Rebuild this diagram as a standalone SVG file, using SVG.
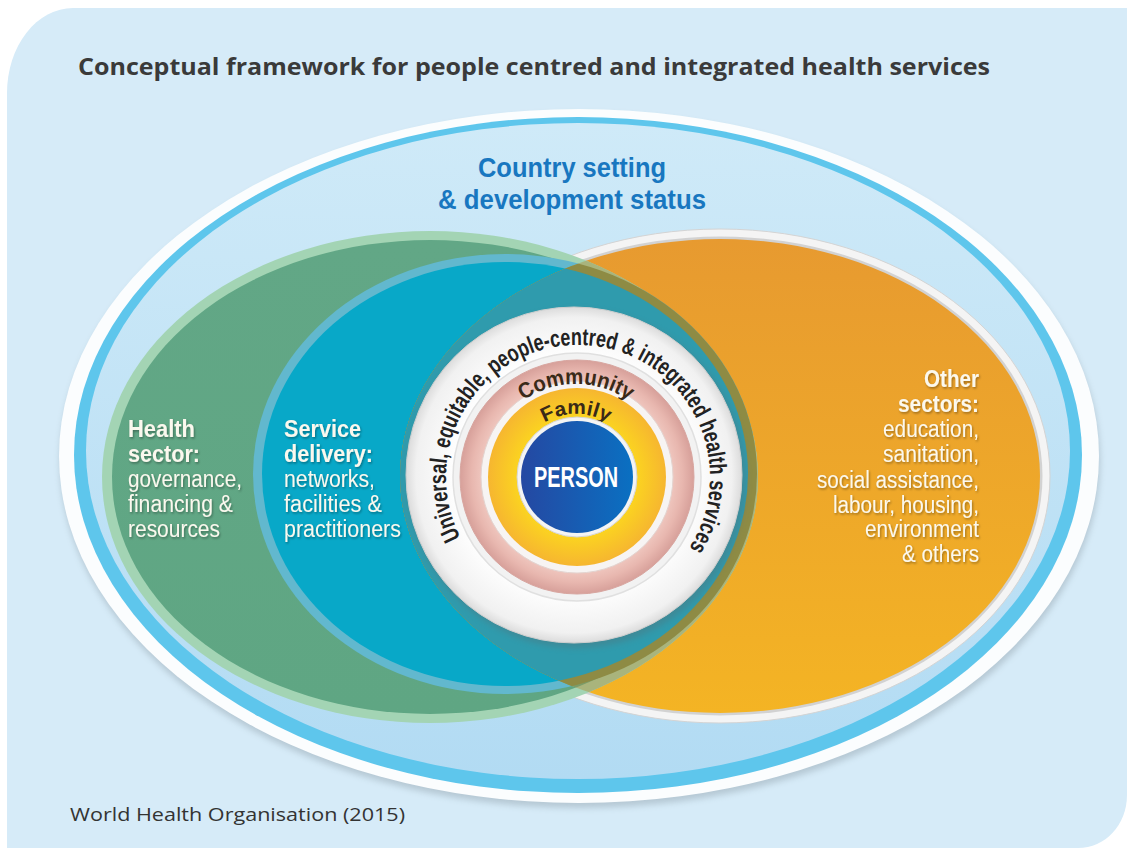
<svg xmlns="http://www.w3.org/2000/svg" width="1127" height="848" viewBox="0 0 1127 848">
<defs>
<style>
.title{font-family:"Open Sans","Liberation Sans",sans-serif;font-weight:700;fill:#3a3a3a}
.foot{font-family:"Open Sans","Liberation Sans",sans-serif;font-weight:400;fill:#333333}
.cond{font-family:"Liberation Sans",Arial,sans-serif}
.hd{font-weight:700}
.rg{font-weight:400}
.lbl{fill:#fbf8ee;font-size:23px;filter:url(#tshadow)}
.country{fill:#1877c0;font-weight:700;font-size:27px}
.ring{fill:#222222;font-weight:700;font-size:24px}
.inner{fill:#3a2a18;font-weight:700}
</style>
<linearGradient id="gOuter" x1="0" y1="0" x2="0" y2="1"><stop offset="0" stop-color="#cfeaf8"/><stop offset="1" stop-color="#b2dbf3"/></linearGradient>
<linearGradient id="gOrange" x1="0" y1="0" x2="0" y2="1"><stop offset="0" stop-color="#e79a30"/><stop offset="1" stop-color="#f4b424"/></linearGradient>
<linearGradient id="gGreen" x1="0" y1="0" x2="0" y2="1"><stop offset="0" stop-color="#62a786"/><stop offset="1" stop-color="#5fa683"/></linearGradient>
<radialGradient id="gWhite"><stop offset="0.7" stop-color="#ffffff"/><stop offset="0.94" stop-color="#f1f1f1"/><stop offset="1" stop-color="#dcdcdc"/></radialGradient>
<radialGradient id="gPink"><stop offset="0.8" stop-color="#f0c8c0"/><stop offset="0.9" stop-color="#e8b7af"/><stop offset="1" stop-color="#d7a09a"/></radialGradient>
<radialGradient id="gYellow"><stop offset="0.62" stop-color="#fcd81e"/><stop offset="1" stop-color="#f6b630"/></radialGradient>
<linearGradient id="gBlue" x1="0" y1="0" x2="1" y2="0"><stop offset="0" stop-color="#2548a2"/><stop offset="1" stop-color="#0a70c2"/></linearGradient>
<filter id="tshadow" x="-10%" y="-40%" width="120%" height="180%"><feDropShadow dx="1" dy="1.5" stdDeviation="1" flood-color="#000000" flood-opacity="0.35"/></filter>
<filter id="blur3" x="-5%" y="-5%" width="110%" height="110%"><feGaussianBlur stdDeviation="3"/></filter>
<clipPath id="orangeClip"><ellipse cx="720" cy="476" rx="320" ry="237"/></clipPath>
<path id="arcOuter" d="M460.7,537.5 A132,132 0 1 1 688.4,549.3"/>
<path id="arcComm" d="M516.9,405.5 A92,92 0 0 1 635.1,405.5"/>
<path id="arcFam" d="M528.5,436.1 A62,62 0 0 1 623.5,436.1"/>
</defs>

<g id="panel">
<rect width="1127" height="848" fill="#ffffff"/>
<path d="M7,848 L7,93 A66,85 0 0 1 73,8 L1127,8 L1127,795 C1127,825 1105,848 1078,848 Z" fill="#d6ebf8"/>
</g>

<g id="title"><text class="title" x="78" y="75" font-size="24" textLength="912" lengthAdjust="spacingAndGlyphs">Conceptual framework for people centred and integrated health services</text></g>

<g id="country-setting">
<ellipse cx="580" cy="461" rx="520" ry="347" fill="#8e9ea8" opacity="0.45" filter="url(#blur3)"/>
<ellipse cx="579" cy="456" rx="520" ry="347" fill="#fbfdfe"/>
<ellipse cx="578" cy="455" rx="504" ry="338" fill="#5ec6ec"/>
<ellipse cx="578" cy="451" rx="492" ry="328" fill="url(#gOuter)"/>
<text class="cond country" x="478" y="177" textLength="188" lengthAdjust="spacingAndGlyphs">Country setting</text>
<text class="cond country" x="438" y="209" textLength="268" lengthAdjust="spacingAndGlyphs">&amp; development status</text>
</g>

<g id="other-sectors-shape">
<ellipse cx="720" cy="476" rx="330" ry="247" fill="#f4f4f4" stroke="#d4d4d4" stroke-width="1"/>
<ellipse cx="720" cy="476" rx="322.5" ry="239.5" fill="#d2d2d2"/>
<ellipse cx="720" cy="476" rx="320" ry="237" fill="url(#gOrange)"/>
</g>

<g id="health-sector-shape">
<ellipse cx="430" cy="477" rx="328" ry="246" fill="#a3d4b4"/>
<ellipse cx="430" cy="477" rx="318" ry="237" fill="url(#gGreen)"/>
</g>

<g id="service-delivery-shape">
<ellipse cx="505" cy="474" rx="252" ry="220" fill="#62b8ce"/>
<ellipse cx="505" cy="474" rx="243" ry="212" fill="#08a8c8"/>
</g>

<g id="overlaps" clip-path="url(#orangeClip)">
<ellipse cx="430" cy="477" rx="328" ry="246" fill="#a9b47c"/>
<ellipse cx="430" cy="477" rx="318" ry="237" fill="#7c9c68"/>
<ellipse cx="505" cy="474" rx="252" ry="220" fill="#8e8b44"/>
<ellipse cx="505" cy="474" rx="243" ry="212" fill="#2f9bad"/>
</g>

<g id="health-sector">
<text class="cond lbl hd" x="128" y="437" textLength="67" lengthAdjust="spacingAndGlyphs">Health</text>
<text class="cond lbl hd" x="128" y="462" textLength="72" lengthAdjust="spacingAndGlyphs">sector:</text>
<text class="cond lbl rg" x="128" y="487" textLength="114" lengthAdjust="spacingAndGlyphs">governance,</text>
<text class="cond lbl rg" x="128" y="512" textLength="105" lengthAdjust="spacingAndGlyphs">financing &amp;</text>
<text class="cond lbl rg" x="128" y="537" textLength="92" lengthAdjust="spacingAndGlyphs">resources</text>
</g>

<g id="service-delivery">
<text class="cond lbl hd" x="284" y="437" textLength="77" lengthAdjust="spacingAndGlyphs">Service</text>
<text class="cond lbl hd" x="284" y="462" textLength="89" lengthAdjust="spacingAndGlyphs">delivery:</text>
<text class="cond lbl rg" x="284" y="487" textLength="91" lengthAdjust="spacingAndGlyphs">networks,</text>
<text class="cond lbl rg" x="284" y="512" textLength="98" lengthAdjust="spacingAndGlyphs">facilities &amp;</text>
<text class="cond lbl rg" x="284" y="537" textLength="117" lengthAdjust="spacingAndGlyphs">practitioners</text>
</g>

<g id="other-sectors">
<text class="cond lbl hd" x="924" y="387" textLength="55" lengthAdjust="spacingAndGlyphs">Other</text>
<text class="cond lbl hd" x="898" y="412" textLength="81" lengthAdjust="spacingAndGlyphs">sectors:</text>
<text class="cond lbl rg" x="883" y="437" textLength="96" lengthAdjust="spacingAndGlyphs">education,</text>
<text class="cond lbl rg" x="883" y="462" textLength="96" lengthAdjust="spacingAndGlyphs">sanitation,</text>
<text class="cond lbl rg" x="817" y="488" textLength="162" lengthAdjust="spacingAndGlyphs">social assistance,</text>
<text class="cond lbl rg" x="833" y="513" textLength="146" lengthAdjust="spacingAndGlyphs">labour, housing,</text>
<text class="cond lbl rg" x="865" y="537" textLength="114" lengthAdjust="spacingAndGlyphs">environment</text>
<text class="cond lbl rg" x="902" y="562" textLength="77" lengthAdjust="spacingAndGlyphs">&amp; others</text>
</g>

<g id="universal-services">
<circle cx="577" cy="479" r="169" fill="#5a6a70" opacity="0.35" filter="url(#blur3)"/>
<circle cx="574" cy="475" r="168" fill="url(#gWhite)" stroke="#cfcfcf" stroke-width="1"/>
<circle cx="577" cy="477" r="124" fill="#f2f2f2" stroke="#e0e0e0" stroke-width="1.5"/>
<text class="cond ring"><textPath href="#arcOuter" textLength="552" lengthAdjust="spacingAndGlyphs">Universal, equitable, people-centred &amp; integrated health services</textPath></text>
</g>

<g id="community">
<circle cx="577" cy="477" r="117" fill="url(#gPink)" stroke="#d8a6a0" stroke-width="1"/>
<circle cx="577" cy="477" r="96" fill="#f7f4f3" stroke="#e3d3cf" stroke-width="1"/>
<text class="cond inner" font-size="22" text-anchor="middle"><textPath href="#arcComm" startOffset="50%" textLength="112" lengthAdjust="spacingAndGlyphs">Community</textPath></text>
</g>

<g id="family">
<circle cx="577" cy="477" r="89" fill="url(#gYellow)"/>
<text class="cond inner" font-size="20" text-anchor="middle"><textPath href="#arcFam" startOffset="50%" textLength="66" lengthAdjust="spacingAndGlyphs">Family</textPath></text>
</g>

<g id="person">
<circle cx="577" cy="477" r="60" fill="#f4f4f4" stroke="#d6d6d6" stroke-width="1"/>
<circle cx="577" cy="477" r="56" fill="url(#gBlue)"/>
<text class="cond hd" x="576" y="487" font-size="29" fill="#ffffff" text-anchor="middle" textLength="84" lengthAdjust="spacingAndGlyphs">PERSON</text>
</g>

<g id="source"><text class="foot" x="70" y="821" font-size="19" textLength="335" lengthAdjust="spacingAndGlyphs">World Health Organisation (2015)</text></g>
</svg>
